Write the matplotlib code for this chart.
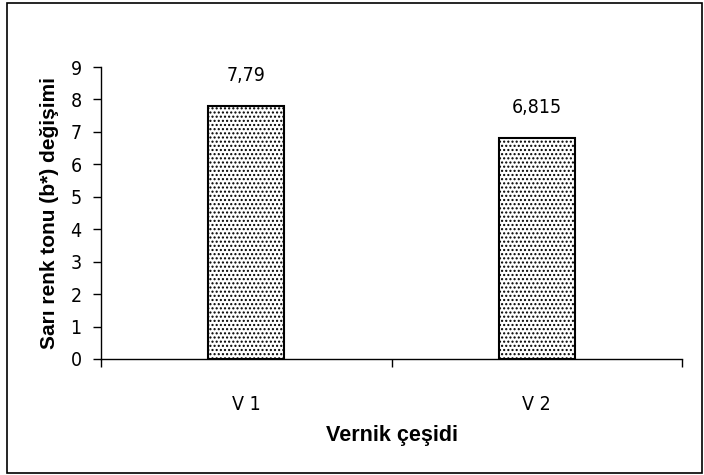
import matplotlib
matplotlib.use("Agg")
import matplotlib.pyplot as plt
from matplotlib.patches import Rectangle

# ----------------------- data ---------------------------
categories = ["V 1", "V 2"]
values     = [7.79, 6.815]
value_text = ["7,79", "6,815"]
y_ticks    = list(range(0, 10))
# --------------------------------------------------------

NARROW = dict(family="DejaVu Sans", stretch="condensed", fontsize=14)
BOLD   = dict(family="Liberation Sans", fontweight="bold")

plt.rcParams["hatch.linewidth"] = 1.0
plt.rcParams["hatch.color"] = "#555555"

fig = plt.figure(figsize=(7.04, 4.75), dpi=100)
ax = fig.add_axes([101 / 704, 116 / 475, 581 / 704, 292 / 475])

x = list(range(len(categories)))
ax.bar(x, values, width=0.26, color="white", edgecolor="black",
       linewidth=1.5, hatch="....", zorder=2)

for xi, v, t in zip(x, values, value_text):
    ax.annotate(t, (xi, v), xytext=(0, 15), textcoords="offset points",
                ha="center", va="bottom", **NARROW)

ax.set_xlim(-0.5, len(categories) - 0.5)
ax.set_ylim(0, 9)
ax.set_yticks(y_ticks)
ax.set_yticklabels([str(t) for t in y_ticks], **NARROW)

# category boundary ticks, labels centred on bars
ax.set_xticks([i - 0.5 for i in range(len(categories) + 1)])
ax.set_xticklabels([])
ax.set_xticks(x, minor=True)
ax.set_xticklabels(categories, minor=True, **NARROW)
ax.tick_params(axis="x", which="major", direction="out", length=6, width=1)
ax.tick_params(axis="x", which="minor", length=0, pad=26)
ax.tick_params(axis="y", direction="out", length=6, width=1, pad=8)

for s in ["top", "right"]:
    ax.spines[s].set_visible(False)
for s in ["left", "bottom"]:
    ax.spines[s].set_linewidth(1)

ax.set_ylabel("Sarı renk tonu (b*) değişimi", fontsize=15, labelpad=8, **BOLD)
ax.set_xlabel("Vernik çeşidi", fontsize=15.5, labelpad=8, **BOLD)

# outer frame
fig.patches.append(Rectangle((7 / 704, 2 / 475), 695 / 704, 470 / 475,
                             transform=fig.transFigure, fill=False,
                             edgecolor="black", linewidth=1.2))

fig.savefig("out.png", dpi=100)
